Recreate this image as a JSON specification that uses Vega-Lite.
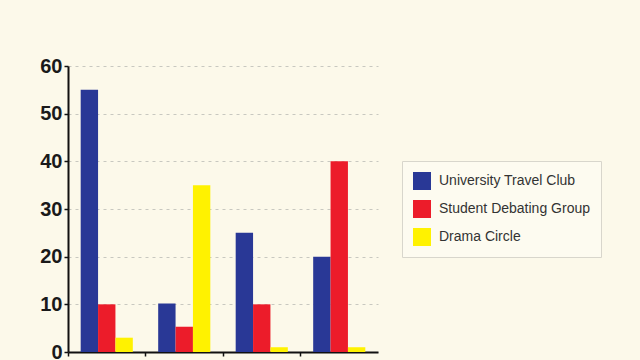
{
  "$schema": "https://vega.github.io/schema/vega-lite/v6.json",
  "autosize": "none",
  "width": 310,
  "height": 286,
  "padding": {"left": 68, "top": 66, "right": 262, "bottom": 8},
  "background": "#fcf9ea",
  "data": {
    "values": [
      {"group": "1", "club": "University Travel Club", "value": 55},
      {"group": "1", "club": "Student Debating Group", "value": 10},
      {"group": "1", "club": "Drama Circle", "value": 3},
      {"group": "2", "club": "University Travel Club", "value": 10.2},
      {"group": "2", "club": "Student Debating Group", "value": 5.3},
      {"group": "2", "club": "Drama Circle", "value": 35},
      {"group": "3", "club": "University Travel Club", "value": 25},
      {"group": "3", "club": "Student Debating Group", "value": 10},
      {"group": "3", "club": "Drama Circle", "value": 1},
      {"group": "4", "club": "University Travel Club", "value": 20},
      {"group": "4", "club": "Student Debating Group", "value": 40},
      {"group": "4", "club": "Drama Circle", "value": 1}
    ]
  },
  "config": {
    "view": {"stroke": null},
    "font": "Liberation Sans"
  },
  "mark": {"type": "bar"},
  "encoding": {
    "x": {
      "field": "group",
      "type": "nominal",
      "scale": {"paddingInner": 0, "paddingOuter": 0},
      "axis": {
        "title": null,
        "labels": false,
        "bandPosition": 0,
        "domainColor": "#111",
        "domainWidth": 2,
        "tickColor": "#111",
        "tickWidth": 1.5,
        "tickSize": 4,
        "grid": false
      }
    },
    "xOffset": {
      "field": "club",
      "type": "nominal",
      "sort": ["University Travel Club", "Student Debating Group", "Drama Circle"],
      "scale": {"paddingInner": 0, "paddingOuter": 0.73}
    },
    "y": {
      "field": "value",
      "type": "quantitative",
      "scale": {"domain": [0, 60], "nice": false},
      "axis": {
        "title": null,
        "values": [0, 10, 20, 30, 40, 50, 60],
        "labelFontSize": 20,
        "labelFont": "Liberation Sans",
        "labelFontWeight": "bold",
        "labelColor": "#1a1a1a",
        "labelPadding": 2,
        "domainColor": "#111",
        "domainWidth": 2,
        "tickColor": "#111",
        "tickWidth": 1.5,
        "tickSize": 4,
        "grid": true,
        "gridColor": "#c8c8c0",
        "gridDash": [3, 4],
        "gridWidth": 1
      }
    },
    "color": {
      "field": "club",
      "type": "nominal",
      "sort": ["University Travel Club", "Student Debating Group", "Drama Circle"],
      "scale": {
        "domain": ["University Travel Club", "Student Debating Group", "Drama Circle"],
        "range": ["#293896", "#ec1c2a", "#fff200"]
      },
      "legend": {
        "title": null,
        "orient": "none",
        "legendX": 334,
        "legendY": 95,
        "symbolType": "square",
        "symbolSize": 324,
        "symbolStrokeWidth": 0,
        "symbolOpacity": 1,
        "labelFontSize": 14,
        "labelFont": "Liberation Sans",
        "labelColor": "#333",
        "labelOffset": 8,
        "rowPadding": 10,
        "padding": 11,
        "strokeColor": "#d8d6cc",
        "fillColor": "#fdfbf0",
        "labelLimit": 300
      }
    }
  }
}
